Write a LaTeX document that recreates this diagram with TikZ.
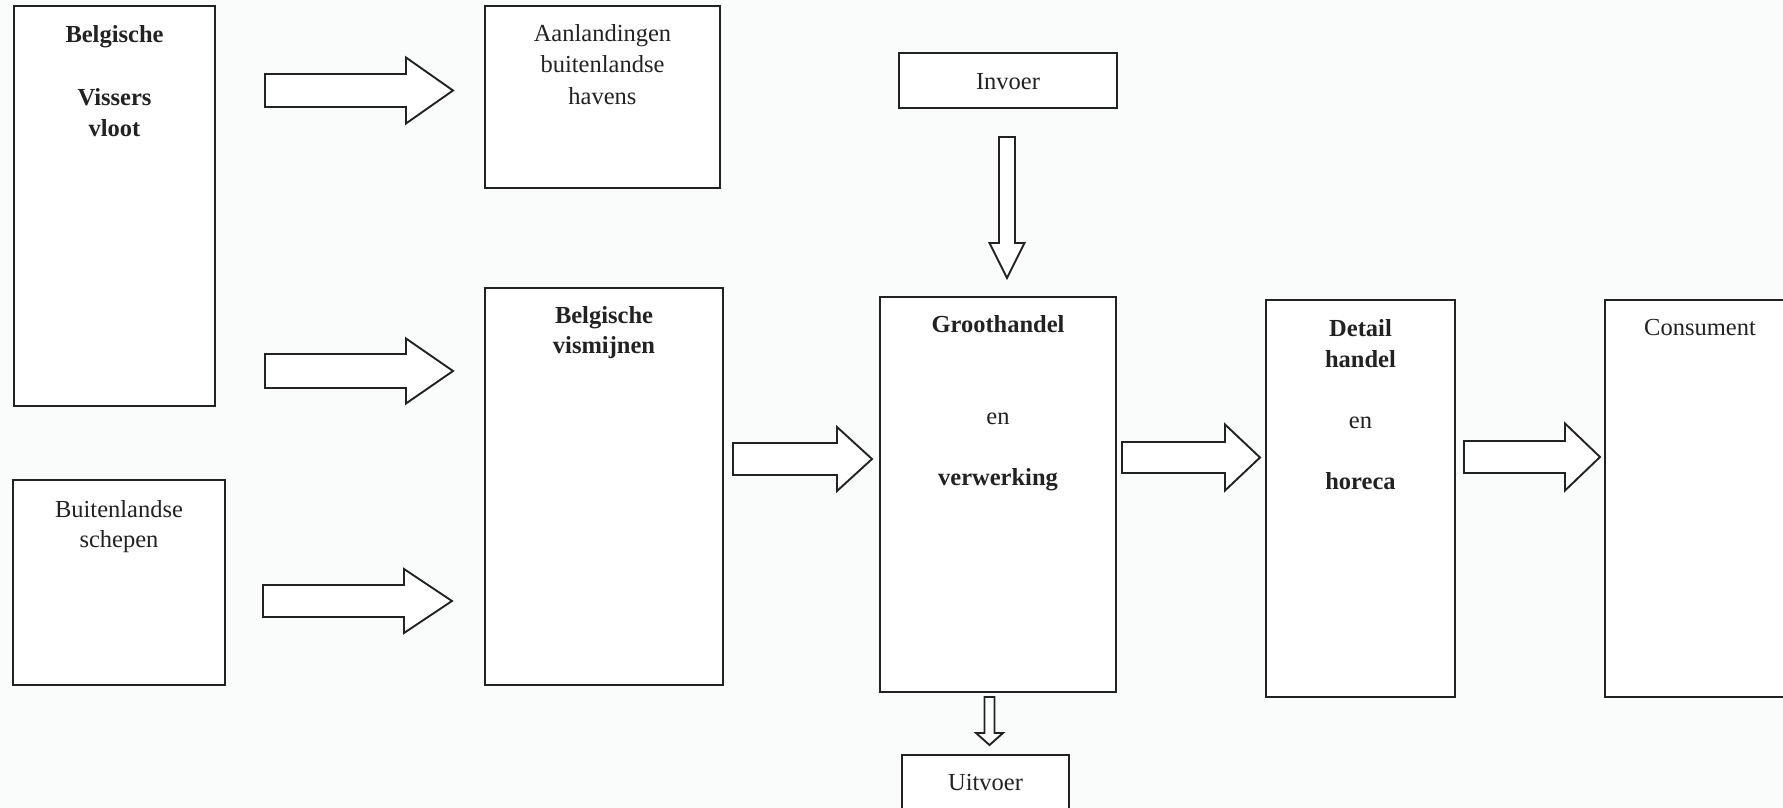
\documentclass[tikz,border=0pt]{standalone}
\usepackage{fontspec}
\setmainfont{Liberation Serif}
\usetikzlibrary{calc}

\definecolor{ink}{HTML}{222222}
\definecolor{paper}{HTML}{FAFBFB}

% horizontal block arrow: tail, tip, shaft half-height, head half-height, head length
\newcommand\fatright[5]{%
  \draw[fatarrow] ($(#1)+(0,-#3)$) -- ($(#2)+(-#5,-#3)$) -- ($(#2)+(-#5,-#4)$)
    -- (#2) -- ($(#2)+(-#5,#4)$) -- ($(#2)+(-#5,#3)$) -- ($(#1)+(0,#3)$) -- cycle;}
% downward block arrow: tail, tip, shaft half-width, head half-width, head length
\newcommand\fatdown[5]{%
  \draw[fatarrow] ($(#1)+(-#3,0)$) -- ($(#2)+(-#3,-#5)$) -- ($(#2)+(-#4,-#5)$)
    -- (#2) -- ($(#2)+(#4,-#5)$) -- ($(#2)+(#3,-#5)$) -- ($(#1)+(#3,0)$) -- cycle;}

\begin{document}
\begin{tikzpicture}[x=1pt,y=-1pt,
  box/.style={draw=ink, line width=2.1pt, fill=white, inner sep=0pt},
  fatarrow/.style={draw=ink, line width=1.9pt, fill=white, line join=miter},
  txt/.style={anchor=base, inner sep=0pt, text=ink,
    font=\fontsize{24.5}{30}\selectfont},
  btxt/.style={txt, font=\fontsize{24.5}{30}\selectfont\bfseries}]

\path[use as bounding box, clip] (0,0) rectangle (1783,808);
\fill[paper] (0,0) rectangle (1783,808);

% boxes
\node[box, minimum width=201pt, minimum height=400pt] (vloot)  at (114.5,206) {};
\node[box, minimum width=212pt, minimum height=205pt] (buiten) at (119,582.5) {};
\node[box, minimum width=235pt, minimum height=182pt] (aanl)   at (602.5,97) {};
\node[box, minimum width=238pt, minimum height=397pt] (mijn)   at (604,486.5) {};
\node[box, minimum width=218pt, minimum height=55pt]  (invoer) at (1008,80.5) {};
\node[box, minimum width=236pt, minimum height=395pt] (groot)  at (998,494.5) {};
\node[box, minimum width=167pt, minimum height=85pt]  (uitvoer) at (985.5,797.5) {};
\node[box, minimum width=189pt, minimum height=397pt] (detail) at (1360.5,498.5) {};
\node[box, minimum width=215pt, minimum height=397pt] (cons)   at (1712.5,498.5) {};

% labels
\node[btxt] (t1a) at (vloot.north |- 0,43)  {Belgische};
\node[btxt] (t1b) at (vloot.north |- 0,106) {Vissers};
\node[btxt] (t1c) at (vloot.north |- 0,136) {vloot};

\node[txt] (t2a) at (buiten.north |- 0,517) {Buitenlandse};
\node[txt] (t2b) at (buiten.north |- 0,547) {schepen};

\node[txt] (t3a) at (aanl.north |- 0,42)  {Aanlandingen};
\node[txt] (t3b) at (aanl.north |- 0,73)  {buitenlandse};
\node[txt] (t3c) at (aanl.north |- 0,104) {havens};

\node[btxt] (t4a) at (mijn.north |- 0,323) {Belgische};
\node[btxt] (t4b) at (mijn.north |- 0,353) {vismijnen};

\node[txt] (t5) at (invoer.north |- 0,89) {Invoer};

\node[btxt] (t6a) at (groot.north |- 0,332) {Groothandel};
\node[txt]  (t6b) at (groot.north |- 0,424) {en};
\node[btxt] (t6c) at (groot.north |- 0,485) {verwerking};

\node[txt] (t7) at (uitvoer.north |- 0,790) {Uitvoer};

\node[btxt] (t8a) at (detail.north |- 0,336) {Detail};
\node[btxt] (t8b) at (detail.north |- 0,367) {handel};
\node[txt]  (t8c) at (detail.north |- 0,428) {en};
\node[btxt] (t8d) at (detail.north |- 0,489) {horeca};

\node[txt] (t9) at (1700,335) {Consument};

% block arrow end points
\coordinate (a1s) at (265,90.5);  \coordinate (a1e) at (453,90.5);
\coordinate (a2s) at (265,371);   \coordinate (a2e) at (453,371);
\coordinate (a3s) at (263,601);   \coordinate (a3e) at (452,601);
\coordinate (a4s) at (733,459);   \coordinate (a4e) at (872,459);
\coordinate (a5s) at (1122,457.5);\coordinate (a5e) at (1260,457.5);
\coordinate (a6s) at (1464,457);  \coordinate (a6e) at (1600,457);
\coordinate (d1s) at (1007,137);  \coordinate (d1e) at (1007,278);
\coordinate (d2s) at (989.5,697); \coordinate (d2e) at (989.5,745);

% block arrows
\fatright{a1s}{a1e}{16.5}{33}{47}
\fatright{a2s}{a2e}{17}{32.5}{47}
\fatright{a3s}{a3e}{16}{32}{48}
\fatright{a4s}{a4e}{16}{32}{35}
\fatright{a5s}{a5e}{15.5}{33}{35}
\fatright{a6s}{a6e}{16}{33.5}{35}
\fatdown{d1s}{d1e}{8}{17.5}{35}
\fatdown{d2s}{d2e}{5}{13.5}{12}

\end{tikzpicture}
\end{document}
